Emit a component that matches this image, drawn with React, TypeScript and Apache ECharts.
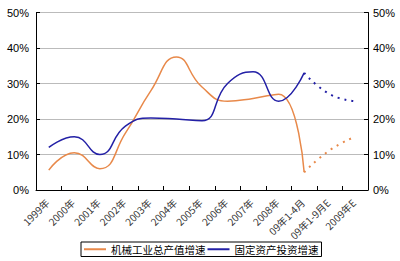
import React, { useEffect, useRef } from "react";
import * as echarts from "echarts";

const categories = [
  "1999年", "2000年", "2001年", "2002年", "2003年", "2004年", "2005年",
  "2006年", "2007年", "2008年", "09年1-4月", "09年1-9月E", "2009年E",
];
const machineryActual = [5.6, 10.5, 6, 16, 28, 37.5, 29, 25, 25.8, 27, 5, null, null];
const machineryForecast = [null, null, null, null, null, null, null, null, null, null, 5, 11.2, 15];
const investmentActual = [12, 15, 10, 18, 20.3, 20, 19.5, 30, 33.3, 25, 33, null, null];
const investmentForecast = [null, null, null, null, null, null, null, null, null, null, 33, 27, 25];
const yTicks = [0, 10, 20, 30, 40, 50];

const ORANGE = "#E8894A";
const BLUE = "#2320A6";

export default function App() {
  const ref = useRef<HTMLDivElement>(null);
  useEffect(() => {
    if (!ref.current) return;
    const chart = echarts.init(ref.current, undefined, { renderer: "svg" });
    const axisY = (pos: "left" | "right") => ({
      type: "value" as const,
      position: pos,
      min: yTicks[0],
      max: yTicks[yTicks.length - 1],
      interval: 10,
      axisLine: { show: true, lineStyle: { color: "#000", width: 1 } },
      axisTick: { show: true, inside: true, length: 4, lineStyle: { color: "#000" } },
      axisLabel: {
        formatter: "{value}%",
        color: "#000",
        fontSize: 11,
        fontFamily: "Arial, Liberation Sans, sans-serif",
        margin: pos === "left" ? 7 : 5,
      },
      splitLine: pos === "left" ? { show: true, lineStyle: { color: "#BBBBBB", width: 1 } } : { show: false },
    });
    chart.setOption({
      animation: false,
      backgroundColor: "#fff",
      grid: { left: 36, right: 32, top: 12.5, bottom: 71, containLabel: false },
      legend: {
        data: ["机械工业总产值增速", "固定资产投资增速"],
        left: 81,
        top: 242,
        borderColor: "#000",
        borderWidth: 1,
        padding: [2, 3, 2, 3],
        itemGap: 2,
        itemWidth: 22,
        itemHeight: 2,
        icon: "rect",
        textStyle: { fontSize: 10.5, color: "#000", fontFamily: "Noto Sans CJK SC" },
      },
      xAxis: {
        type: "category",
        data: categories,
        boundaryGap: true,
        axisLine: { lineStyle: { color: "#000", width: 1 } },
        axisTick: { show: true, inside: true, length: 4, lineStyle: { color: "#000" } },
        axisLabel: {
          rotate: 45,
          fontSize: 10,
          color: "#333",
          interval: 0,
          margin: 9,
          formatter: (v: string) => v + " ",
          fontFamily: "Noto Sans CJK SC",
        },
        splitLine: { show: false },
      },
      yAxis: [axisY("left"), axisY("right")],
      series: [
        {
          name: "机械工业总产值增速",
          type: "line",
          data: machineryActual,
          smooth: 0.5,
          symbol: "none",
          lineStyle: { color: ORANGE, width: 1.5 },
          itemStyle: { color: ORANGE },
        },
        {
          name: "固定资产投资增速",
          type: "line",
          data: investmentActual,
          smooth: 0.5,
          symbol: "none",
          lineStyle: { color: BLUE, width: 1.5 },
          itemStyle: { color: BLUE },
        },
        {
          name: "机械工业总产值增速E",
          type: "line",
          data: machineryForecast,
          smooth: 0.5,
          symbol: "none",
          lineStyle: { color: ORANGE, width: 2, type: [2, 5] },
        },
        {
          name: "固定资产投资增速E",
          type: "line",
          data: investmentForecast,
          smooth: 0.5,
          symbol: "none",
          lineStyle: { color: BLUE, width: 2, type: [2, 5] },
        },
      ],
    });
    return () => chart.dispose();
  }, []);
  return <div ref={ref} style={{ width: 400, height: 261, position: "absolute", left: 0, top: 0 }} />;
}
